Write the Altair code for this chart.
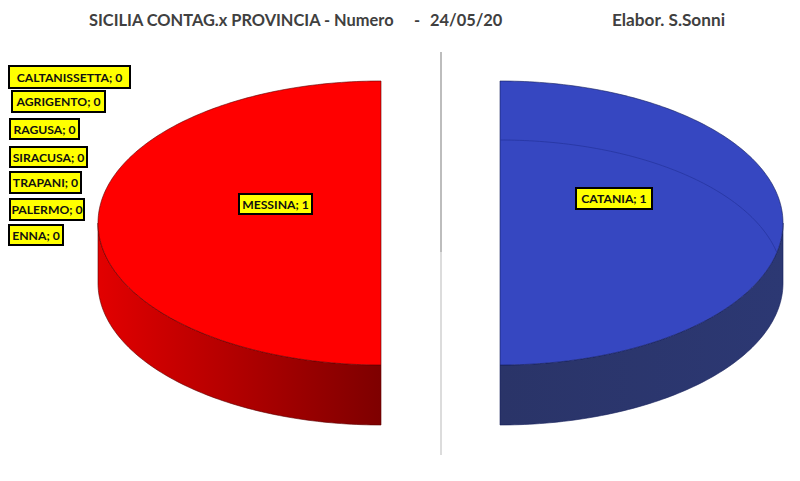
import math
import altair as alt
import pandas as pd

# --- chart values
PROVINCES = ["CATANIA", "MESSINA", "ENNA", "PALERMO", "TRAPANI", "SIRACUSA", "RAGUSA", "AGRIGENTO", "CALTANISSETTA"]
VALUES = [1, 1, 0, 0, 0, 0, 0, 0, 0]
TITLE_PARTS = ["SICILIA CONTAG.x PROVINCIA - Numero", "-", "24/05/20", "Elabor. S.Sonni"]

# --- layout and style (image pixels)
TITLE_X = [89, 414, 430, 612]
TITLE_SIZE = [16.4, 16.4, 16.4, 17.2]
TITLE_Y = 21
LABEL_BOX = {
    "CATANIA": (576, 652, 188, 209),
    "MESSINA": (239, 312, 194, 214),
    "ENNA": (9, 63, 225, 245),
    "PALERMO": (10, 84, 199, 220),
    "TRAPANI": (10, 81, 172, 193),
    "SIRACUSA": (10, 87, 147, 167),
    "RAGUSA": (10, 79, 119, 139),
    "AGRIGENTO": (12, 105, 91, 112),
    "CALTANISSETTA": (9, 130, 66, 88),
}
CX, CY, RX, RY, DEPTH, EXPLODE = 440.5, 223, 283, 142, 60, 59.5
TOP_COL = {"CATANIA": "#3647c1", "MESSINA": "#ff0000"}
EDGE_COL = {"CATANIA": "#141e5a", "MESSINA": "#5a0000"}
SIDE_STOPS = {
    "CATANIA": ["#2c3873", "#2a3468"],
    "MESSINA": ["#e20000", "#7e0000"],
}
FONT = "Lato"

XS = alt.Scale(domain=[8, 792], range=[0, 784], nice=False, zero=False)
YS = alt.Scale(domain=[8, 468], range=[0, 460], nice=False, zero=False)
X = alt.X("x:Q", scale=XS, axis=None)
Y = alt.Y("y:Q", scale=YS, axis=None)

total = sum(VALUES)
layers = []

# separator
sep = pd.DataFrame({"x": [441, 441], "y": [52, 252], "y2": [252, 455], "c": ["#bdbdbd", "#dcdcdc"]})
layers.append(alt.Chart(sep).mark_rule(strokeWidth=2).encode(
    x=X, y=Y, y2="y2:Q", color=alt.Color("c:N", scale=None)))

angle = 0.0
for name, v in zip(PROVINCES, VALUES):
    if v == 0:
        continue
    t0 = angle
    t1 = angle + 360.0 * v / total
    angle = t1
    mid = math.radians((t0 + t1) / 2)
    cx = CX + EXPLODE * math.sin(mid)
    sign = 1 if math.sin(mid) > 0 else -1
    top, side = [], []
    for k in range(0, 181):
        a = math.radians(k)
        dx = RX * math.sin(a)
        dy = RY * math.cos(a)
        if k <= 90:
            top.append({"x": cx + sign * dx, "y": CY - dy, "y2": CY + dy})
        if k >= 90:
            side.append({"x": cx + sign * dx, "y": CY - dy, "y2": CY - dy + DEPTH})
    grad_stops = SIDE_STOPS[name]
    if sign > 0:
        grad_stops = grad_stops[::-1]
    layers.append(alt.Chart(pd.DataFrame(side)).mark_area(
        color=alt.Gradient(
            gradient="linear", x1=0, x2=1, y1=0, y2=0,
            stops=[alt.GradientStop(color=grad_stops[0], offset=0),
                   alt.GradientStop(color=grad_stops[1], offset=1)]),
        stroke=EDGE_COL[name], strokeWidth=0.6,
    ).encode(x=X, y=Y, y2="y2:Q"))
    layers.append(alt.Chart(pd.DataFrame(top)).mark_area(
        color=TOP_COL[name], stroke=EDGE_COL[name], strokeWidth=0.6,
    ).encode(x=X, y=Y, y2="y2:Q"))
    if name == "CATANIA":
        inner = []
        for k in range(0, 79):
            a = math.radians(k)
            inner.append({"x": cx + RX * math.sin(a), "y": CY + DEPTH - 1 - RY * math.cos(a)})
        layers.append(alt.Chart(pd.DataFrame(inner)).mark_line(
            color="#26359f", strokeWidth=0.8).encode(x=X, y=Y))

# data labels
rows = []
for name, v in zip(PROVINCES, VALUES):
    x1, x2, y1, y2 = LABEL_BOX[name]
    rows.append({"x": x1, "x2": x2, "y": y1, "y2": y2, "tx": (x1 + x2) / 2, "ty": (y1 + y2) / 2 + 0.5,
                 "label": f"{name}; {v}"})
lab = pd.DataFrame(rows)
layers.append(alt.Chart(lab).mark_rect(fill="#ffff00", stroke="#000000", strokeWidth=2).encode(
    x=X, x2="x2:Q", y=Y, y2="y2:Q"))
layers.append(alt.Chart(lab).mark_text(
    font=FONT, fontSize=12.2, fontWeight="bold", color="#111111", align="center", baseline="middle"
).encode(x=alt.X("tx:Q", scale=XS, axis=None), y=alt.Y("ty:Q", scale=YS, axis=None), text="label:N"))

# title pieces
tit = pd.DataFrame({"x": TITLE_X, "y": [TITLE_Y] * len(TITLE_X), "t": TITLE_PARTS, "s": TITLE_SIZE})
layers.append(alt.Chart(tit).mark_text(
    font=FONT, fontWeight="bold", color="#404040", align="left", baseline="middle"
).encode(x=X, y=Y, text="t:N", size=alt.Size("s:Q", scale=None)))

chart = alt.layer(*layers).properties(
    width=784, height=460, padding=0,
    autosize=alt.AutoSizeParams(type="none"),
    background="#ffffff",
).configure_view(stroke=None)

chart.save("out.html", embed_options={"renderer": "svg", "actions": False})
